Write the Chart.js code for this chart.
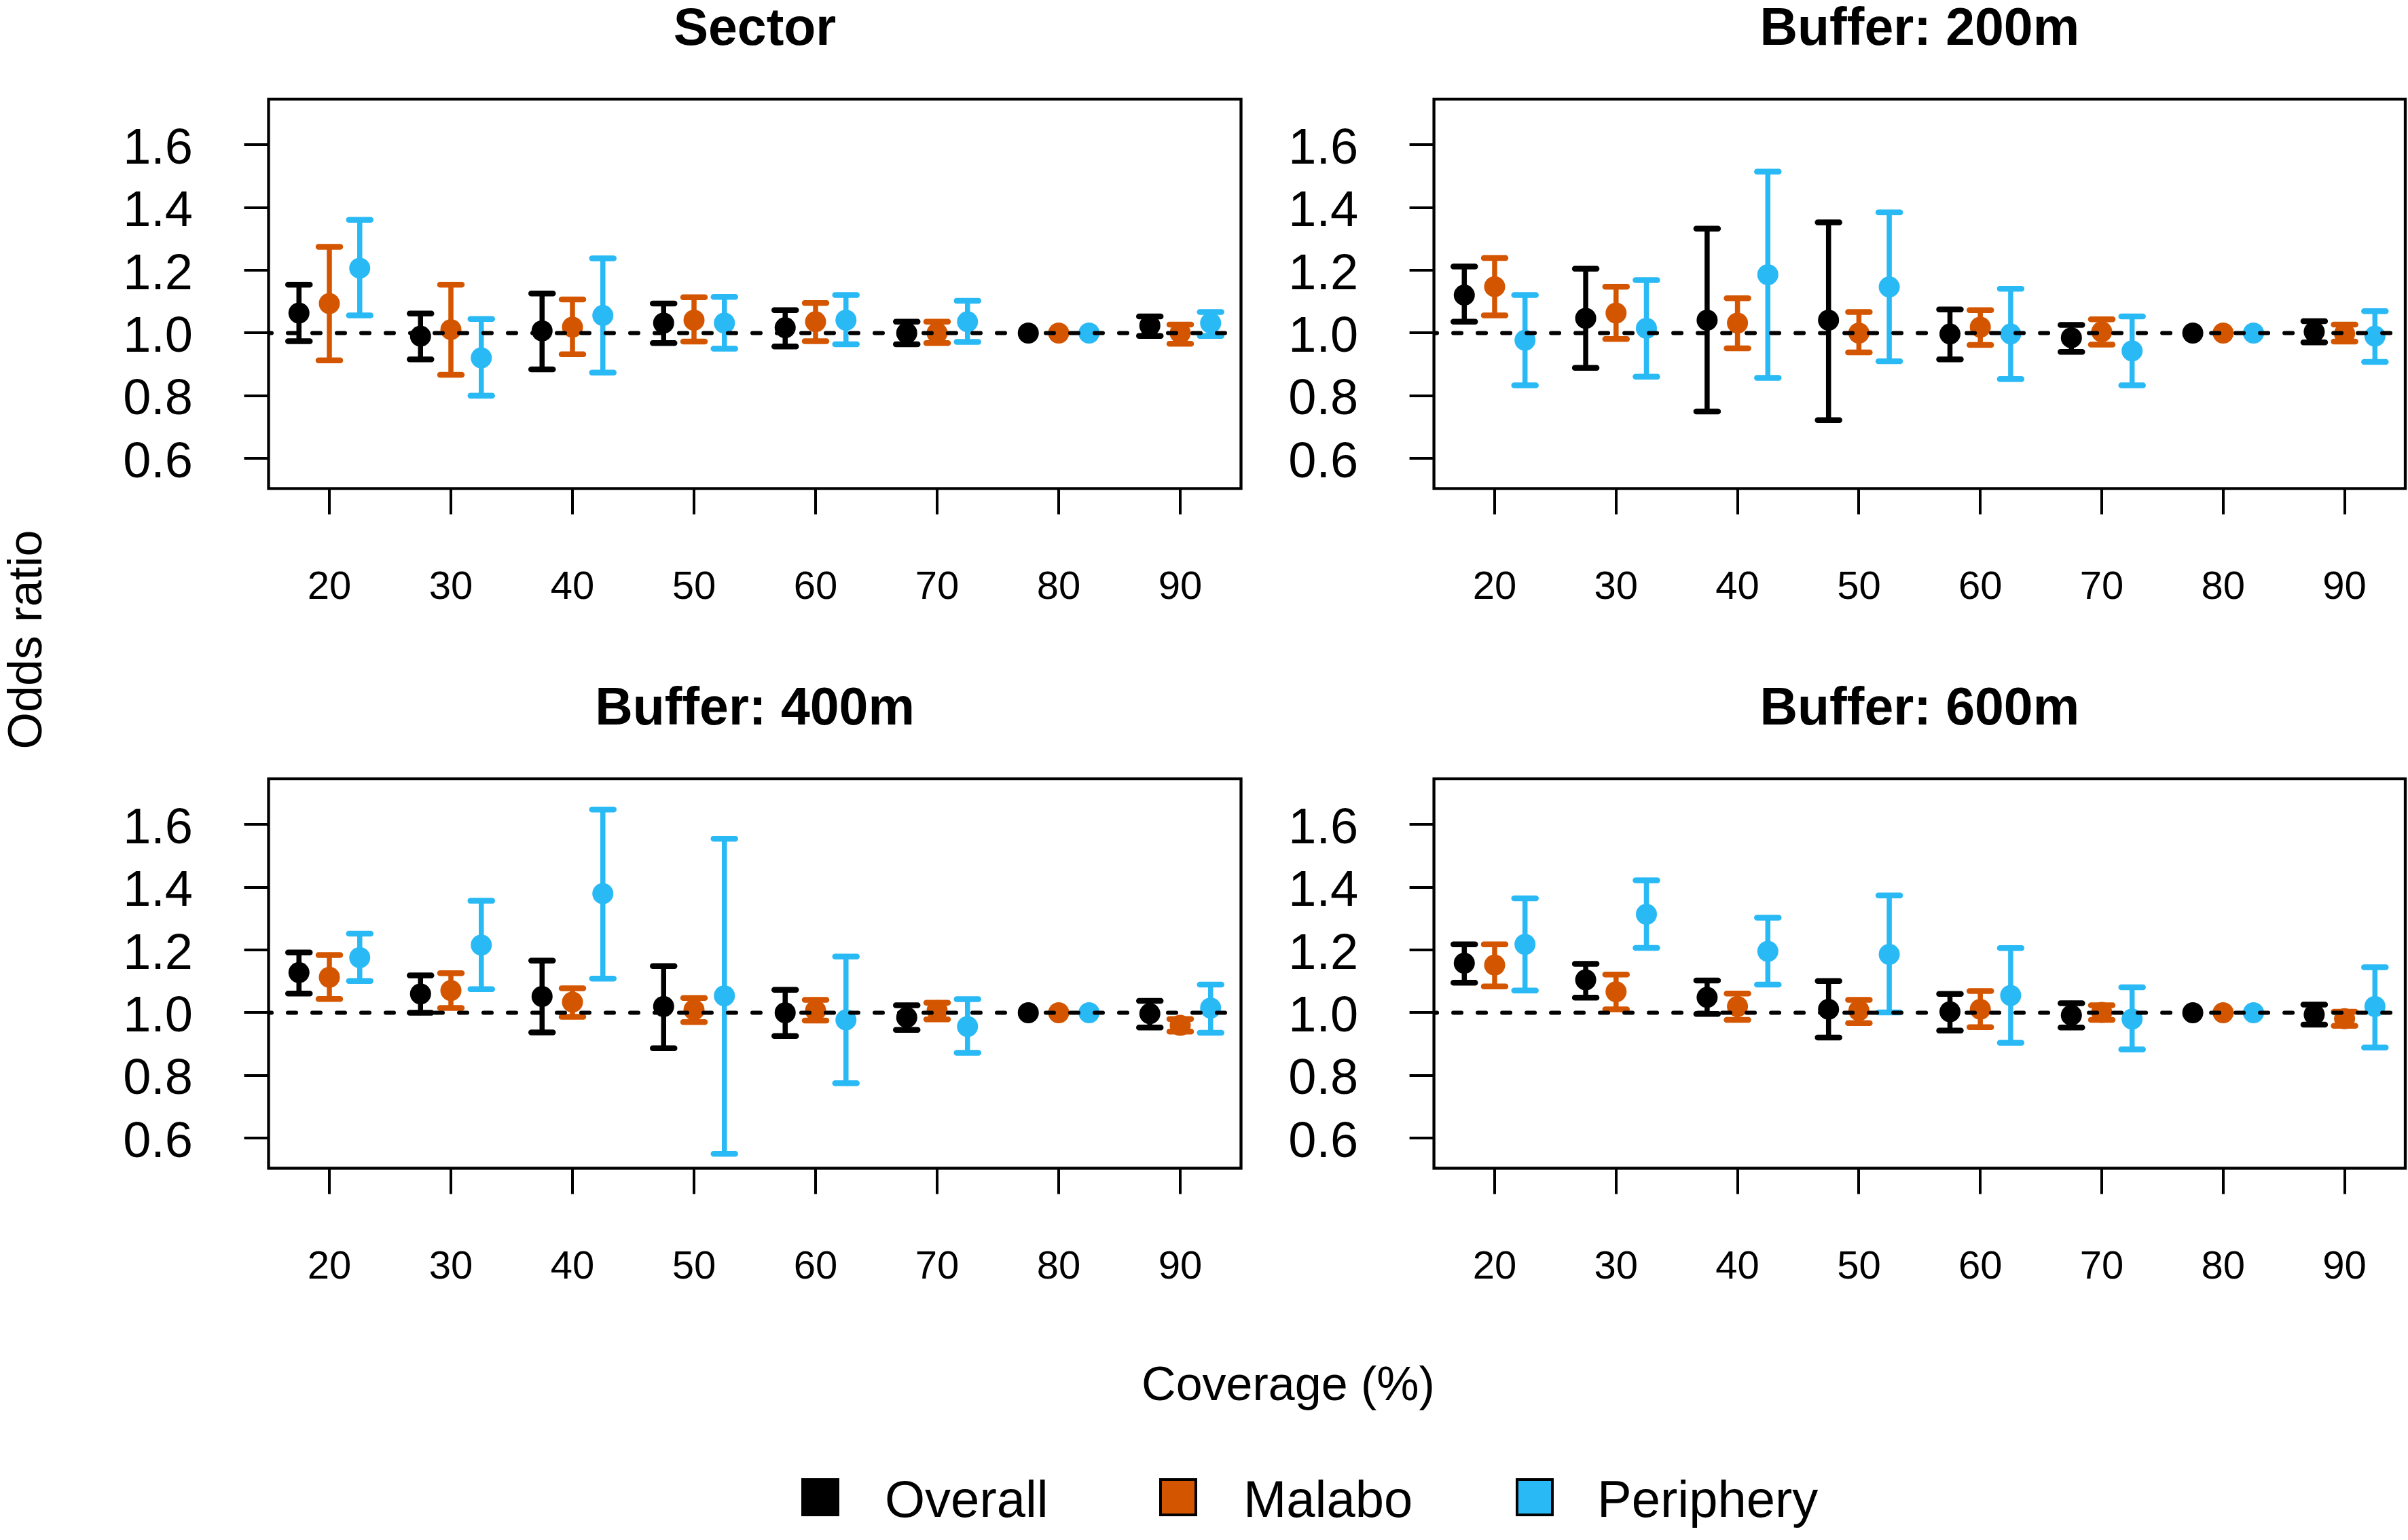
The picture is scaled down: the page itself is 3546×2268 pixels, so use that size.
<!DOCTYPE html>
<html>
<head>
<meta charset="utf-8">
<title>Odds ratio by coverage</title>
<script src="https://cdn.jsdelivr.net/npm/chart.js@4.4.1/dist/chart.umd.min.js"></script>
<style>
  body { margin: 0; background: #fff; width: 3546px; height: 2268px; position: relative; overflow: hidden;
         font-family: "Liberation Sans", Arial, Helvetica, sans-serif; color: #000; }
  canvas { position: absolute; }
  .lbl { position: absolute; white-space: nowrap; }
  .key { position: absolute; width: 56px; height: 56px; box-sizing: border-box; border: 4px solid #000; }
</style>
</head>
<body>
<!-- right column canvases run a little past the page edge; the body clips them -->
<canvas id="p0" width="1850" height="1001" style="left:0px;top:0px"></canvas>
<canvas id="p1" width="1730" height="1001" style="left:1850px;top:0px"></canvas>
<canvas id="p2" width="1850" height="1001" style="left:0px;top:1001px"></canvas>
<canvas id="p3" width="1730" height="1001" style="left:1850px;top:1001px"></canvas>

<div class="lbl" style="left:-163px;top:907px;width:400px;height:70px;line-height:70px;font-size:70px;text-align:center;transform:rotate(-90deg)">Odds ratio</div>
<div class="lbl" style="left:1397px;top:2003px;width:1000px;line-height:70px;font-size:70px;text-align:center">Coverage (%)</div>
<div id="legend"></div>

<script>
// ---- data ----
const coverage = [20, 30, 40, 50, 60, 70, 80, 90];
const yTicks = [0.6, 0.8, 1.0, 1.2, 1.4, 1.6];
const panelTitles = ['Sector', 'Buffer: 200m', 'Buffer: 400m', 'Buffer: 600m'];
const seriesNames = ['Overall', 'Malabo', 'Periphery'];
const seriesColors = ['#000000', '#D45500', '#29B9F5'];

// Sector
const sectorOverallOR = [1.064, 0.990, 1.007, 1.032, 1.017, 1.000, 1.000, 1.024];
const sectorOverallLo = [0.974, 0.916, 0.884, 0.968, 0.957, 0.964, 1.000, 0.991];
const sectorOverallHi = [1.154, 1.062, 1.126, 1.094, 1.073, 1.036, 1.000, 1.053];
const sectorMalaboOR = [1.094, 1.011, 1.019, 1.041, 1.036, 1.000, 1.000, 1.000];
const sectorMalaboLo = [0.913, 0.867, 0.932, 0.973, 0.974, 0.968, 1.000, 0.966];
const sectorMalaboHi = [1.275, 1.154, 1.107, 1.114, 1.096, 1.036, 1.000, 1.027];
const sectorPeriphOR = [1.207, 0.921, 1.056, 1.032, 1.041, 1.036, 1.000, 1.032];
const sectorPeriphLo = [1.056, 0.800, 0.874, 0.950, 0.964, 0.972, 1.000, 0.991];
const sectorPeriphHi = [1.361, 1.045, 1.238, 1.115, 1.121, 1.103, 1.000, 1.067];

// Buffer 200m
const b200OverallOR = [1.121, 1.047, 1.041, 1.041, 0.997, 0.985, 1.000, 1.004];
const b200OverallLo = [1.036, 0.889, 0.750, 0.722, 0.916, 0.940, 1.000, 0.970];
const b200OverallHi = [1.212, 1.205, 1.333, 1.353, 1.075, 1.026, 1.000, 1.038];
const b200MalaboOR = [1.148, 1.064, 1.032, 1.000, 1.019, 1.004, 1.000, 0.998];
const b200MalaboLo = [1.056, 0.981, 0.951, 0.938, 0.962, 0.963, 1.000, 0.973];
const b200MalaboHi = [1.239, 1.148, 1.111, 1.067, 1.073, 1.044, 1.000, 1.027];
const b200PeriphOR = [0.977, 1.015, 1.186, 1.147, 0.997, 0.943, 1.000, 0.990];
const b200PeriphLo = [0.833, 0.861, 0.857, 0.910, 0.853, 0.833, 1.000, 0.908];
const b200PeriphHi = [1.121, 1.169, 1.515, 1.385, 1.141, 1.053, 1.000, 1.070];

// Buffer 400m
const b400OverallOR = [1.128, 1.060, 1.052, 1.020, 1.000, 0.985, 1.000, 0.997];
const b400OverallLo = [1.061, 1.000, 0.937, 0.887, 0.926, 0.945, 1.000, 0.953];
const b400OverallHi = [1.192, 1.119, 1.166, 1.149, 1.073, 1.024, 1.000, 1.038];
const b400MalaboOR = [1.113, 1.071, 1.034, 1.009, 1.007, 1.007, 1.000, 0.960];
const b400MalaboLo = [1.044, 1.015, 0.987, 0.970, 0.975, 0.979, 1.000, 0.940];
const b400MalaboHi = [1.184, 1.126, 1.078, 1.047, 1.041, 1.032, 1.000, 0.980];
const b400PeriphOR = [1.176, 1.216, 1.380, 1.054, 0.977, 0.956, 1.000, 1.015];
const b400PeriphLo = [1.101, 1.075, 1.109, 0.550, 0.775, 0.872, 1.000, 0.936];
const b400PeriphHi = [1.252, 1.357, 1.648, 1.555, 1.179, 1.043, 1.000, 1.090];

// Buffer 600m
const b600OverallOR = [1.158, 1.105, 1.049, 1.011, 1.003, 0.992, 1.000, 0.994];
const b600OverallLo = [1.096, 1.048, 0.996, 0.921, 0.943, 0.953, 1.000, 0.962];
const b600OverallHi = [1.218, 1.156, 1.103, 1.101, 1.060, 1.030, 1.000, 1.026];
const b600MalaboOR = [1.152, 1.067, 1.020, 1.007, 1.011, 1.001, 1.000, 0.981];
const b600MalaboLo = [1.084, 1.011, 0.977, 0.967, 0.954, 0.977, 1.000, 0.958];
const b600MalaboHi = [1.218, 1.122, 1.061, 1.041, 1.069, 1.024, 1.000, 1.003];
const b600PeriphOR = [1.218, 1.314, 1.196, 1.186, 1.055, 0.980, 1.000, 1.020];
const b600PeriphLo = [1.071, 1.207, 1.090, 1.001, 0.904, 0.883, 1.000, 0.889];
const b600PeriphHi = [1.365, 1.422, 1.303, 1.374, 1.206, 1.081, 1.000, 1.145];

// ---- axis limits (R style: 4% beyond the data limits) ----
const xMin = 15, xMax = 95;
const yMin = 0.55 - 0.046, yMax = 1.70 + 0.046;

const panels = [
  { id: 'p0', areaLeft: 395.5, areaRight: 1827.5,
    series: [[sectorOverallOR, sectorOverallLo, sectorOverallHi],
             [sectorMalaboOR, sectorMalaboLo, sectorMalaboHi],
             [sectorPeriphOR, sectorPeriphLo, sectorPeriphHi]] },
  { id: 'p1', areaLeft: 261.6, areaRight: 1692,
    series: [[b200OverallOR, b200OverallLo, b200OverallHi],
             [b200MalaboOR, b200MalaboLo, b200MalaboHi],
             [b200PeriphOR, b200PeriphLo, b200PeriphHi]] },
  { id: 'p2', areaLeft: 395.5, areaRight: 1827.5,
    series: [[b400OverallOR, b400OverallLo, b400OverallHi],
             [b400MalaboOR, b400MalaboLo, b400MalaboHi],
             [b400PeriphOR, b400PeriphLo, b400PeriphHi]] },
  { id: 'p3', areaLeft: 261.6, areaRight: 1692,
    series: [[b600OverallOR, b600OverallLo, b600OverallHi],
             [b600MalaboOR, b600MalaboLo, b600MalaboHi],
             [b600PeriphOR, b600PeriphLo, b600PeriphHi]] }
];

Chart.defaults.font.family = '"Liberation Sans", Arial, Helvetica, sans-serif';
Chart.defaults.color = '#000';

// error bars, box and panel title
const panelDecor = {
  id: 'panelDecor',
  beforeDatasetsDraw(chart) {
    const ctx = chart.ctx, ys = chart.scales.y;
    ctx.save();
    ctx.lineCap = 'round';
    chart.data.datasets.forEach((ds, i) => {
      if (!ds.ci) return;
      const meta = chart.getDatasetMeta(i);
      ctx.strokeStyle = ds.pointBackgroundColor;
      meta.data.forEach((pt, j) => {
        const lo = ds.ci.lo[j], hi = ds.ci.hi[j];
        if (hi - lo < 1e-6) return; // zero length: R skips these
        const x = pt.x, yl = ys.getPixelForValue(lo), yh = ys.getPixelForValue(hi);
        ctx.lineWidth = 7.5;
        ctx.beginPath();
        ctx.moveTo(x, yl); ctx.lineTo(x, yh);
        ctx.stroke();
        ctx.lineWidth = 8.5;
        ctx.beginPath();
        ctx.moveTo(x - 16, yl); ctx.lineTo(x + 16, yl);
        ctx.moveTo(x - 16, yh); ctx.lineTo(x + 16, yh);
        ctx.stroke();
      });
    });
    ctx.restore();
  },
  afterDraw(chart, args, opts) {
    const a = chart.chartArea, ctx = chart.ctx;
    ctx.save();
    ctx.lineWidth = 4.3;
    ctx.strokeStyle = '#000';
    ctx.strokeRect(a.left, a.top, a.right - a.left, a.bottom - a.top);
    ctx.fillStyle = '#000';
    ctx.font = 'bold 77px "Liberation Sans", Arial, sans-serif';
    ctx.textAlign = 'center';
    ctx.textBaseline = 'alphabetic';
    ctx.fillText(opts.title, (a.left + a.right) / 2, 66);
    ctx.restore();
  }
};

panels.forEach((p, n) => {
  const canvas = document.getElementById(p.id);
  const W = canvas.width, H = canvas.height;
  const datasets = p.series.map((s, k) => ({
    type: 'scatter',
    label: seriesNames[k],
    data: coverage.map((c, i) => ({ x: c + (k - 1) * 2.5, y: s[0][i] })),
    ci: { lo: s[1], hi: s[2] },
    pointBackgroundColor: seriesColors[k],
    backgroundColor: seriesColors[k],
    pointBorderWidth: 0,
    pointRadius: 15.5,
    order: 1
  }));
  datasets.push({
    type: 'line',
    label: 'ref',
    data: [{ x: xMin, y: 1 }, { x: xMax, y: 1 }],
    borderColor: '#000',
    borderWidth: 6,
    borderDash: [12, 24],
    borderDashOffset: 7.5,
    borderCapStyle: 'round',
    pointRadius: 0,
    fill: false,
    order: 0
  });

  const tickGrid = { drawOnChartArea: false, drawTicks: true, lineWidth: 4, tickWidth: 4, color: '#000', tickColor: '#000' };

  new Chart(canvas, {
    type: 'scatter',
    data: { datasets: datasets },
    plugins: [panelDecor],
    options: {
      responsive: false,
      animation: false,
      events: [],
      layout: { padding: { top: 146, left: 0, right: W - p.areaRight, bottom: H - 719.5 - 200 } },
      plugins: {
        legend: { display: false },
        tooltip: { enabled: false },
        panelDecor: { title: panelTitles[n] }
      },
      scales: {
        x: {
          type: 'linear', bounds: 'data', min: xMin, max: xMax,
          afterBuildTicks: s => { s.ticks = coverage.map(v => ({ value: v })); },
          afterFit: s => { s.height = 200; s.paddingLeft = 0; s.paddingRight = 0; },
          grid: Object.assign({ tickLength: 38 }, tickGrid),
          border: { display: false },
          // the gap below the ticks comes from the line height, so no side padding is added
          ticks: { font: { size: 58, lineHeight: '217.6px' }, padding: 0, maxRotation: 0, autoSkip: false, callback: v => String(v) }
        },
        y: {
          type: 'linear', bounds: 'data', min: yMin, max: yMax,
          afterBuildTicks: s => { s.ticks = yTicks.map(v => ({ value: v })); },
          afterFit: s => { s.width = p.areaLeft; s.paddingTop = 0; s.paddingBottom = 0; },
          grid: Object.assign({ tickLength: 36 }, tickGrid),
          border: { display: false },
          ticks: { font: { size: 74 }, padding: 75.5, labelOffset: 7, autoSkip: false, callback: v => v.toFixed(1) }
        }
      }
    }
  });
});

// shared legend
const keyX = [1180, 1707, 2232];
const textX = [1303, 1831, 2352];
const legend = document.getElementById('legend');
seriesNames.forEach((name, k) => {
  const key = document.createElement('div');
  key.className = 'key';
  key.style.left = keyX[k] + 'px';
  key.style.top = '2177px';
  key.style.background = seriesColors[k];
  legend.appendChild(key);
  const t = document.createElement('div');
  t.className = 'lbl';
  t.style.left = textX[k] + 'px';
  t.style.top = '2170px';
  t.style.fontSize = '76px';
  t.style.lineHeight = '76px';
  t.textContent = name;
  legend.appendChild(t);
});
</script>
</body>
</html>
